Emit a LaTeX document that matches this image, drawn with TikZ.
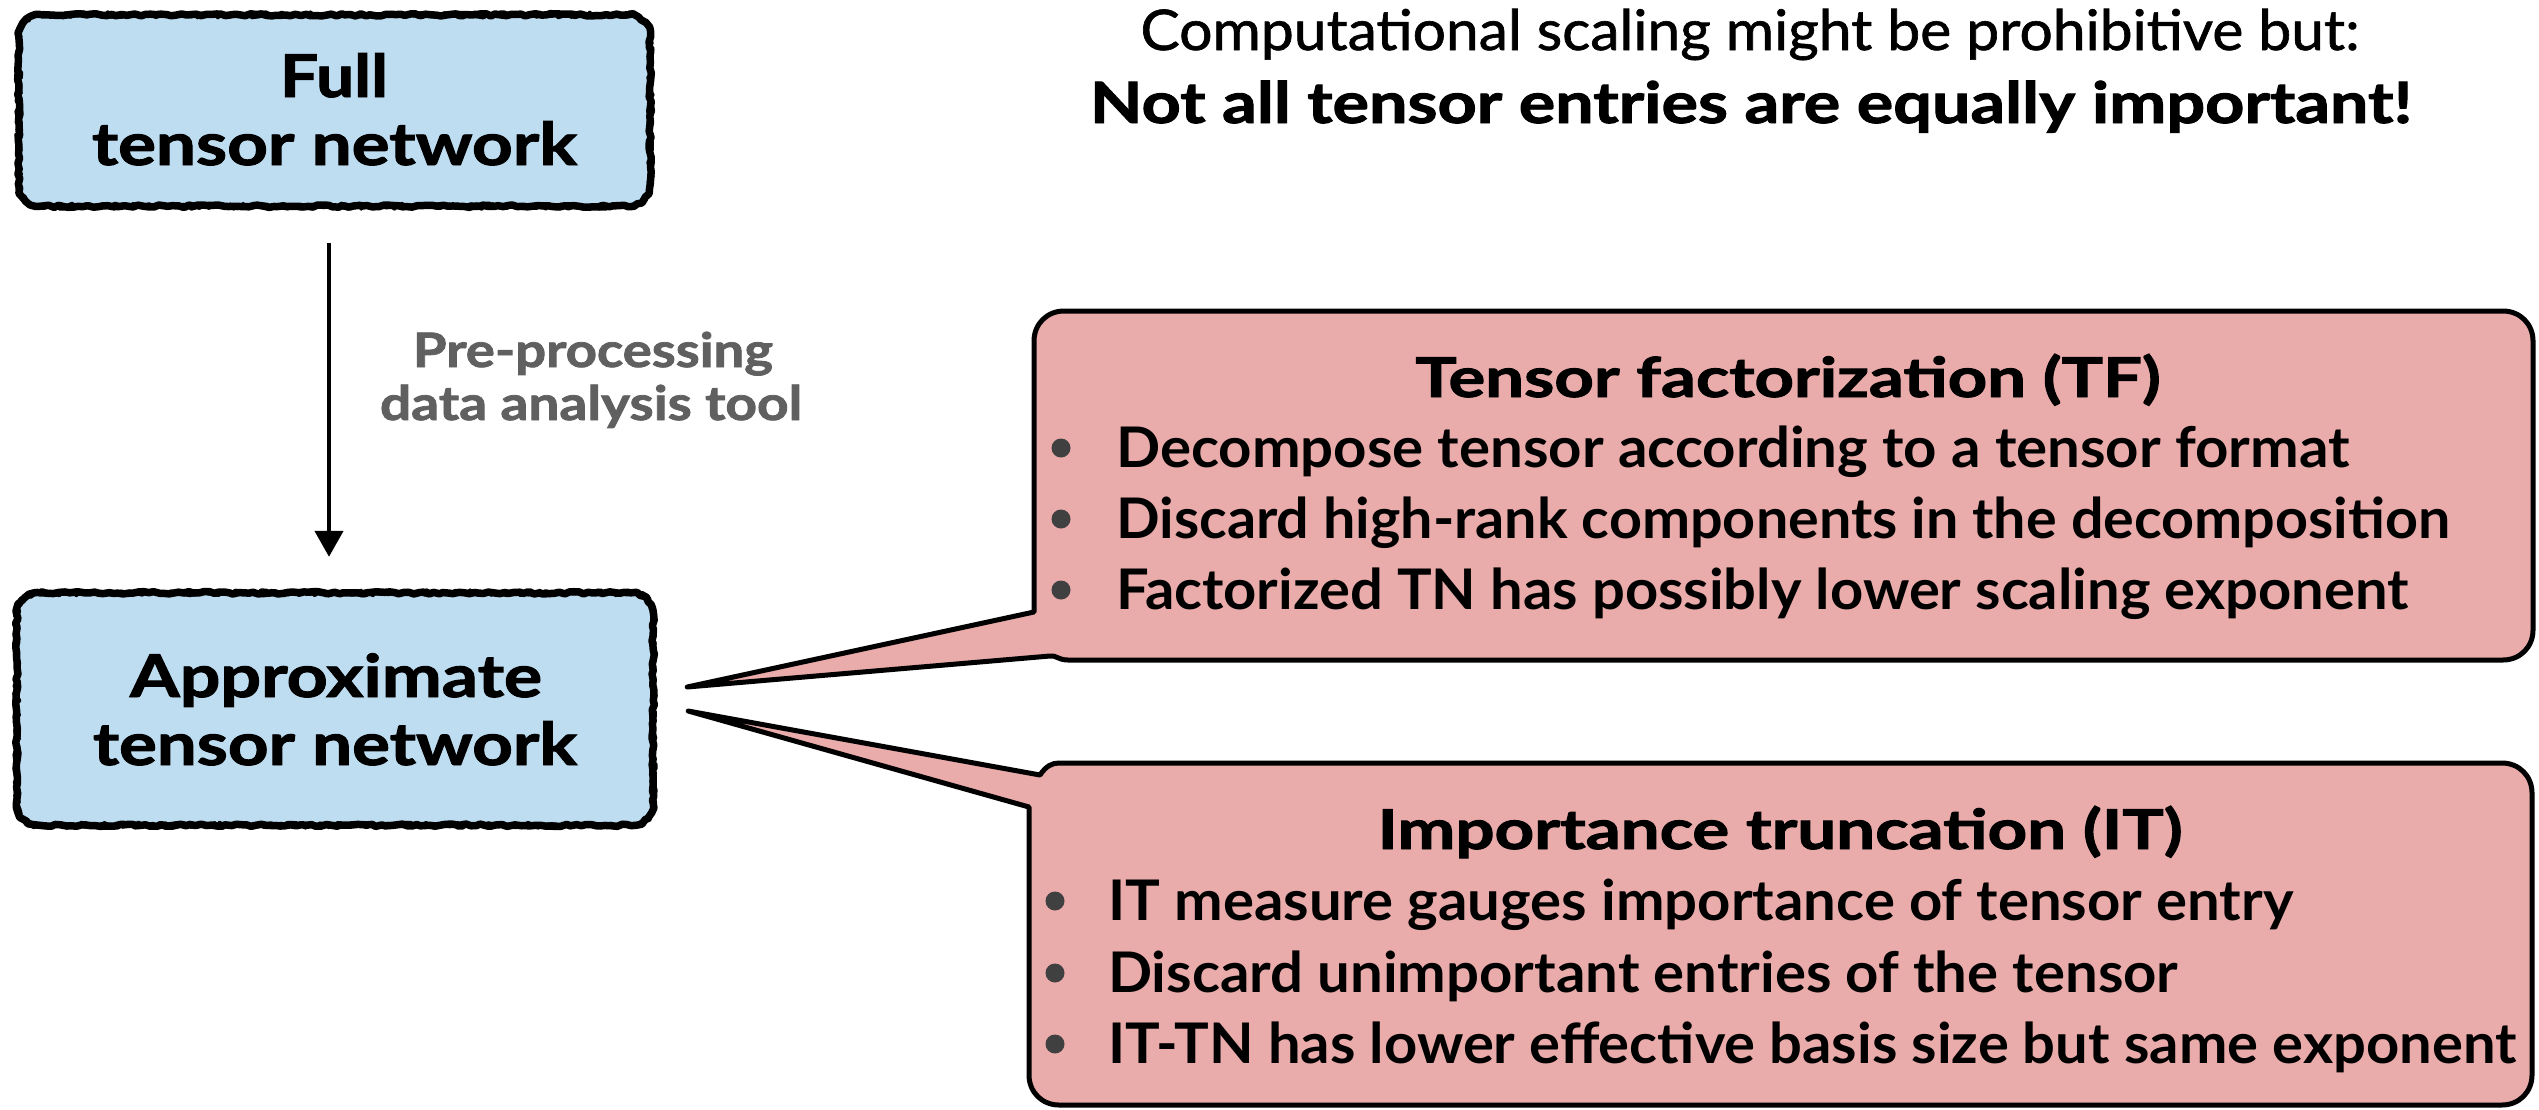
\documentclass[tikz,border=0pt]{standalone}
\usepackage{fontspec}
\usepackage{graphicx}
\setmainfont{Lato}
\newfontfamily\heavy{Lato}[BoldFeatures={FakeBold=1.6}]
\newfontfamily\medium{Lato}[UprightFeatures={FakeBold=1.1}]
\usetikzlibrary{arrows.meta,decorations.pathmorphing,calc}

\definecolor{boxblue}{HTML}{BEDDF1}
\definecolor{calloutpink}{HTML}{EAABAB}
\definecolor{notegray}{HTML}{606060}
\definecolor{dotgray}{HTML}{404040}

% one line of text: target width (pt), font size (pt), text
\newcommand\fitline[3]{\resizebox{#1pt}{\height}{\fontsize{#2pt}{#2pt}\selectfont #3}}

% rounded outline around a node, built from straight runs and corner curves
\newcommand\framepath[1]{([xshift=22pt]#1.north west) -- ([xshift=-22pt]#1.north east)
  .. controls ([xshift=-10pt]#1.north east) and ([yshift=-10pt]#1.north east) .. ([yshift=-22pt]#1.north east)
  -- ([yshift=22pt]#1.south east)
  .. controls ([yshift=10pt]#1.south east) and ([xshift=-10pt]#1.south east) .. ([xshift=-22pt]#1.south east)
  -- ([xshift=22pt]#1.south west)
  .. controls ([xshift=10pt]#1.south west) and ([yshift=10pt]#1.south west) .. ([yshift=22pt]#1.south west)
  -- ([yshift=-22pt]#1.north west)
  .. controls ([yshift=-10pt]#1.north west) and ([xshift=10pt]#1.north west) .. ([xshift=22pt]#1.north west) -- cycle}

\tikzset{
  bluebox/.style={fill=boxblue, rounded corners=20pt, inner sep=0pt},
  roughA/.style={draw=black, line width=7.5pt, line join=round,
    decorate, decoration={random steps, segment length=5pt, amplitude=1.2pt}},
  roughB/.style={draw=black, line width=4pt, line join=round,
    decorate, decoration={random steps, segment length=3pt, amplitude=2.6pt}},
  callout/.style={fill=calloutpink, draw=black, line width=5pt, line join=round},
  txt/.style={inner sep=0pt, anchor=base},
  txtl/.style={inner sep=0pt, anchor=base west},
  bulletdot/.style={circle, fill=dotgray, minimum size=19pt, inner sep=0pt},
  flowarrow/.style={draw=black, line width=4.5pt, -{Triangle[width=28pt,length=26pt]}},
}

\begin{document}
\begin{tikzpicture}[x=1pt, y=-1pt]
\useasboundingbox (0,0) rectangle (2539,1109);
\pgfmathsetseed{11}

% headline
\node[txt] (head1) at (1750,50) {\fitline{1219}{56}{\medium Computational scaling might be prohibitive but:}};
\node[txt] (head2) at (1751,123) {\fitline{1322}{57}{\heavy\bfseries Not all tensor entries are equally important!}};

% the two network boxes
\node[bluebox, minimum width=631pt, minimum height=191pt] (full) at (334.5,110.5) {};
\draw[roughA] \framepath{full};
\draw[roughB] \framepath{full};
\node[txt] (fullA) at (334,97) {\fitline{108}{59}{\heavy\bfseries Full}};
\node[txt] (fullB) at (334.5,165) {\fitline{485}{59}{\heavy\bfseries tensor network}};

\node[bluebox, minimum width=636pt, minimum height=232pt] (approx) at (335,709) {};
\draw[roughA] \framepath{approx};
\draw[roughB] \framepath{approx};
\node[txt] (apxA) at (336,697) {\fitline{412}{59}{\heavy\bfseries Approximate}};
\node[txt] (apxB) at (335,765) {\fitline{484}{59}{\heavy\bfseries tensor network}};

% pre-processing step
\draw[flowarrow, shorten <=37pt, shorten >=36pt] ([xshift=-5.5pt]full.south) -- ([xshift=-6pt]approx.north);
\node[txt] (pre1) at (593,367) {\color{notegray}\fitline{360}{47.5}{\heavy\bfseries Pre-processing}};
\node[txt] (pre2) at (591,420) {\color{notegray}\fitline{422}{47.5}{\heavy\bfseries data analysis tool}};

% callout tips next to the approximate network
\coordinate (tfTip) at ([shift={(34pt,22pt)}]approx.east);
\coordinate (itTip) at ([shift={(35pt,-2pt)}]approx.east);

% tensor factorization callout
\draw[callout] (1064,311) -- (2503,311) .. controls (2520,311) and (2533,324) .. (2533,341)
  -- (2533,630) .. controls (2533,647) and (2520,660) .. (2503,660)
  -- (1068,660) .. controls (1058,660) and (1056,655) .. (1050,656)
  -- (tfTip) -- (1034,612)
  -- (1034,341) .. controls (1034,324) and (1047,311) .. (1064,311) -- cycle;

% importance truncation callout
\draw[callout] (1059,763) -- (2502,763) .. controls (2519,763) and (2532,776) .. (2532,793)
  -- (2532,1075) .. controls (2532,1092) and (2519,1105) .. (2502,1105)
  -- (1059,1105) .. controls (1042,1105) and (1029,1092) .. (1029,1075)
  -- (1029,807) -- (itTip) -- (1040,775)
  .. controls (1046,766) and (1052,763) .. (1059,763) -- cycle;

% callout texts
\node[txt] (tfT) at (1788,397) {\fitline{745}{55}{\heavy\bfseries Tensor factorization (TF)}};
\node[bulletdot] (tfd1) at (1061,448) {};
\node[bulletdot] (tfd2) at (1061,519) {};
\node[bulletdot] (tfd3) at (1061,590) {};
\node[txtl] (tf1) at (1116,467) {\fitline{1233}{56}{\bfseries Decompose tensor according to a tensor format}};
\node[txtl] (tf2) at (1116,538) {\fitline{1334}{56}{\bfseries Discard high-rank components in the decomposition}};
\node[txtl] (tf3) at (1116,609) {\fitline{1292}{56}{\bfseries Factorized TN has possibly lower scaling exponent}};

\node[txt] (itT) at (1780,849) {\fitline{805}{55}{\heavy\bfseries Importance truncation (IT)}};
\node[bulletdot] (itd1) at (1055,901) {};
\node[bulletdot] (itd2) at (1055,973) {};
\node[bulletdot] (itd3) at (1055,1044) {};
\node[txtl] (it1) at (1108,920) {\fitline{1185}{56}{\bfseries IT measure gauges importance of tensor entry}};
\node[txtl] (it2) at (1108,992) {\fitline{1070}{56}{\bfseries Discard unimportant entries of the tensor}};
\node[txtl] (it3) at (1108,1063) {\fitline{1408}{56}{\bfseries IT-TN has lower effective basis size but same exponent}};
\end{tikzpicture}
\end{document}
